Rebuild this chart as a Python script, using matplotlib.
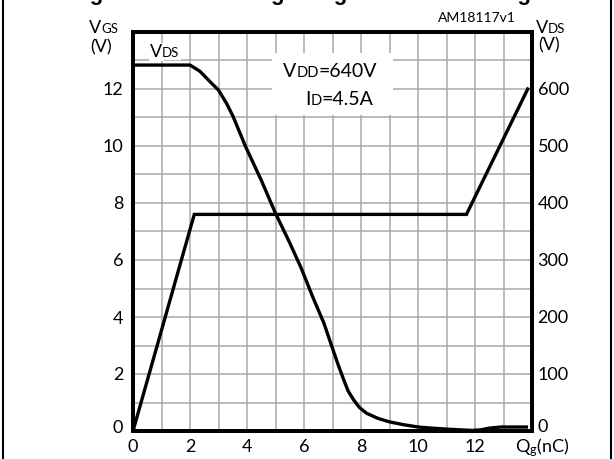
import matplotlib.pyplot as plt
from matplotlib.patches import Rectangle
from matplotlib.lines import Line2D

plt.rcParams['font.family'] = ['Lato', 'DejaVu Sans']
plt.rcParams['mathtext.default'] = 'regular'

# dane
qg_vgs = [0, 2.15, 11.7, 13.85]
vgs = [0, 7.6, 7.6, 12.0]

qg_vds = [0, 2.0, 2.35, 2.7, 3.0, 3.28, 3.51, 3.95, 4.5, 5.0, 5.5, 5.9,
          6.3, 6.7, 7.0, 7.2, 7.4, 7.55, 7.75, 7.95, 8.2, 8.6, 9.0, 9.5,
          10.0, 10.5, 11.1, 11.9, 12.2, 12.5, 12.9, 13.8]
vds = [642, 642, 631, 613, 598, 575, 552, 499, 440, 382, 330, 286,
       236, 189, 145, 116, 89, 70, 54, 41, 31, 22, 16, 11,
       7, 5, 3, 1, 2, 5, 7, 7]

x_ticks = list(range(0, 15))
x_labels = [str(i) if i % 2 == 0 and i < 14 else '' for i in x_ticks]
vgs_ticks = list(range(0, 15))
vgs_labels = [str(i) if i % 2 == 0 and 0 < i < 14 else '' for i in vgs_ticks]
vds_ticks = list(range(0, 701, 50))
vds_labels = [str(v) if v % 100 == 0 and 0 < v < 700 else '' for v in vds_ticks]

W, H = 614, 459


def fx(px):
    return px / W


def fy(py):
    return 1 - py / H


fig = plt.figure(figsize=(W / 100, H / 100), dpi=100)
ax = fig.add_axes([fx(133), fy(431), (532 - 133) / W, (431 - 32) / H])
ax.set_xlim(0, 14)
ax.set_ylim(0, 14)
ax.set_xticks(x_ticks)
ax.set_xticklabels(x_labels, fontsize=13)
ax.set_yticks(vgs_ticks)
ax.set_yticklabels(vgs_labels, fontsize=13)
ax.tick_params(axis='x', length=0, pad=6)
ax.tick_params(axis='y', length=0, pad=7)
ax.grid(True, color='#a8a8a8', lw=1.1)
ax.set_axisbelow(True)
for s in ax.spines.values():
    s.set_linewidth(2.8)

ax2 = ax.twinx()
ax2.set_ylim(0, 700)
ax2.set_yticks(vds_ticks)
ax2.set_yticklabels(vds_labels, fontsize=13)
ax2.tick_params(axis='y', length=0, pad=4)
for s in ax2.spines.values():
    s.set_linewidth(2.8)

# zera przesunięte lekko w górę, jak w oryginale
ax.annotate('0', xy=(0, 0), xycoords='axes fraction', xytext=(-7, 2),
            textcoords='offset points', ha='right', va='center', fontsize=13)
ax.annotate('0', xy=(1, 0), xycoords='axes fraction', xytext=(4, 3),
            textcoords='offset points', ha='left', va='center', fontsize=13)

ax.plot(qg_vgs, vgs, color='black', lw=2.4, solid_joinstyle='miter', zorder=3)
ax2.plot(qg_vds, vds, color='black', lw=2.4, zorder=3)

# białe pole pod opisem warunków
ax.add_patch(Rectangle((4.88, 11.09), 4.24, 2.18, fc='white', ec='none', zorder=1))

renderer = fig.canvas.get_renderer()


def smallcaps(x, y, pieces, **kw):
    # kolejne kawałki na tej samej linii bazowej (V + mniejsze litery)
    px = x * W
    for s, fs in pieces:
        t = fig.text(px / W, y, s, fontsize=fs, va='baseline', ha='left', **kw)
        px = t.get_window_extent(renderer).x1


smallcaps(fx(89), fy(33), [('V', 13), ('GS', 9.5)])
fig.text(fx(90), fy(47), '(V)', fontsize=13, va='center')
smallcaps(fx(536), fy(33), [('V', 13), ('DS', 9.5)])
fig.text(fx(538), fy(45), '(V)', fontsize=13, va='center')
fig.text(fx(438), fy(18), 'AM18117v1', fontsize=10, va='center')

smallcaps(fx(150), fy(57), [('V', 13), ('DS', 9.5)],
          bbox=dict(fc='white', ec='none', pad=1), zorder=5)
smallcaps(fx(283), fy(77), [('V', 14), ('DD', 10.5), ('=640V', 14)])
smallcaps(fx(305), fy(105), [('I', 14), ('D', 10.5), ('=4.5A', 14)])

fig.text(fx(515), fy(448), 'Q$_{g}$(nC)', fontsize=13, va='center')

# tytuł ucięty u góry
fig.text(0.5, 1.0, 'Figure 8. Gate charge vs gate-source voltage', fontsize=16,
         fontweight='bold', family='Liberation Sans', ha='center', va='baseline')

# ramka boczna
fig.add_artist(Line2D([fx(3), fx(3)], [0, 1], color='black', lw=1.5))
fig.add_artist(Line2D([fx(611), fx(611)], [0, 1], color='black', lw=1.5))

fig.savefig('out.png', dpi=100)
